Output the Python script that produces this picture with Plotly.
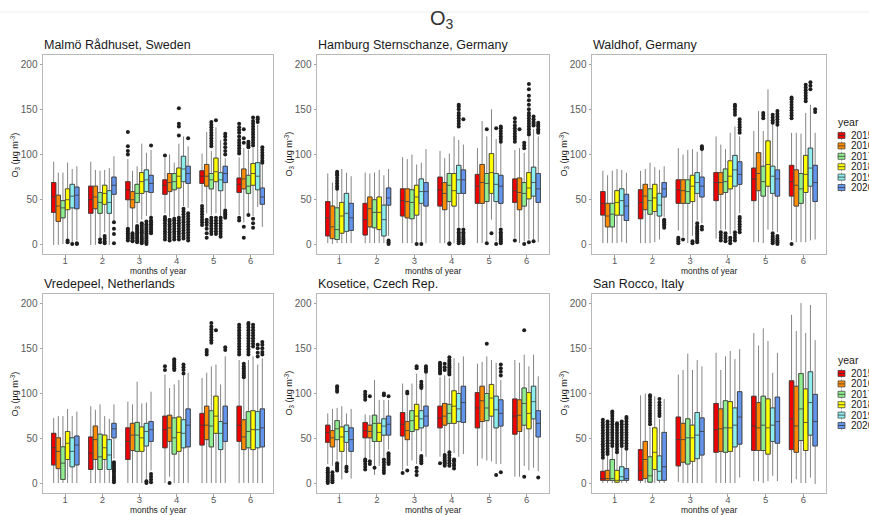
import plotly.graph_objects as go

W, H = 869, 515

YEARS = ["2015", "2016", "2017", "2018", "2019", "2020"]
MONTHS = [1, 2, 3, 4, 5, 6]
COLORS = ["#F20000", "#FF8C00", "#90EE90", "#FFFF00", "#8DEEEE", "#6495ED"]
TITLES = ["Malmö Rådhuset, Sweden", "Hamburg Sternschanze, Germany", "Waldhof, Germany",
          "Vredepeel, Netherlands", "Kosetice, Czech Rep.", "San Rocco, Italy"]
Y_TICKS = [0, 50, 100, 150, 200]

# rows = months 1..6, columns = years 2015..2020
MALMO_LO = [[0, 0, 1, 6, 2, 5], [0, 0, 4, 14, 0, 26], [20, 14, 24, 28, 32, 32],
            [35, 31, 31, 32, 43, 41], [46, 35, 33, 35, 31, 40], [33, 25, 35, 32, 42, 20]]
MALMO_Q1 = [[36, 26, 30, 39, 41, 40], [35, 40, 35, 45, 35, 56], [50, 41, 47, 57, 59, 58],
            [56, 59, 61, 63, 70, 68], [68, 65, 62, 70, 60, 69], [58, 62, 57, 66, 61, 45]]
MALMO_MED = [[53, 43, 41, 50, 54, 55], [50, 53, 47, 57, 47, 66], [61, 50, 57, 70, 72, 68],
             [66, 69, 70, 76, 84, 79], [76, 76, 72, 81, 72, 79], [67, 73, 65, 79, 76, 53]]
MALMO_Q3 = [[69, 55, 49, 62, 67, 64], [65, 65, 58, 66, 60, 75], [70, 59, 67, 80, 83, 77],
            [72, 79, 79, 85, 98, 87], [82, 89, 79, 96, 80, 87], [74, 84, 77, 90, 91, 63]]
MALMO_HI = [[92, 80, 80, 91, 84, 87], [92, 83, 82, 83, 85, 98], [95, 82, 87, 112, 102, 105],
            [96, 100, 91, 112, 120, 109], [101, 125, 104, 130, 116, 96], [97, 107, 105, 107, 133, 89]]
MALMO_OUT = {
    (1, 3): [3, 5], (1, 4): [1], (1, 5): [1, 2],
    (2, 2): [3, 6], (2, 3): [2, 4, 7, 10], (2, 5): [2, 12, 18, 25],
    (3, 0): [100, 104, 109, 125, 5, 7, 9, 11, 13, 15, 17, 18],
    (3, 1): [4, 5, 7, 8, 10, 11, 13],
    (3, 2): [3, 5, 7, 9, 11, 13, 15, 17, 19, 21],
    (3, 3): [2, 4, 6, 8, 10, 12, 14, 16, 18, 20, 22, 24],
    (3, 4): [1, 3, 5, 7, 9, 11, 13, 15, 17, 19, 21, 23, 26],
    (3, 5): [110, 13, 15, 17, 19, 21, 23, 25, 27, 30],
    (4, 0): [99, 6, 9, 12, 15, 18, 21, 24, 27, 29, 31],
    (4, 1): [5, 8, 11, 14, 17, 20, 23, 26, 28],
    (4, 2): [6, 9, 12, 15, 18, 21, 24, 27, 29],
    (4, 3): [121, 131, 134, 151, 6, 9, 12, 15, 18, 21, 24, 27, 30],
    (4, 4): [7, 10, 13, 16, 19, 22, 25, 28, 31, 34, 37, 40],
    (4, 5): [118, 5, 8, 11, 14, 17, 20, 23, 26, 29, 32, 35],
    (5, 0): [22, 25, 28, 31, 34, 37, 40, 43],
    (5, 1): [8, 13, 18, 22, 25, 28],
    (5, 2): [109, 112, 115, 118, 121, 124, 127, 130, 133, 136, 12, 15, 18, 21, 24, 27, 30],
    (5, 3): [138, 12, 15, 18, 21, 24, 27, 30],
    (5, 4): [9, 12, 15, 18, 21, 24, 27, 30],
    (5, 5): [100, 104, 108, 112, 116, 120, 123, 30, 32, 34, 36, 38],
    (6, 0): [101, 104, 107, 110, 113, 116, 120, 124, 127, 130, 134, 27, 30],
    (6, 1): [113, 118, 128, 8, 20],
    (6, 2): [108, 110, 112, 114, 33],
    (6, 3): [110, 113, 116, 119, 122, 125, 128, 131, 134, 137, 141, 19, 24, 29],
    (6, 4): [136, 139, 141],
    (6, 5): [91, 93, 96, 99, 102, 105, 108],
}

HAMBURG_LO = [[2, 1, 2, 2, 2, 2], [2, 2, 2, 2, 2, 10], [2, 2, 2, 3, 3, 2],
              [2, 2, 4, 2, 20, 20], [2, 2, 4, 28, 4, 20], [8, 2, 4, 6, 6, 3]]
HAMBURG_Q1 = [[10, 7, 6, 13, 15, 16], [11, 20, 19, 17, 10, 44], [32, 30, 29, 33, 46, 43],
              [43, 39, 48, 43, 57, 57], [46, 46, 48, 57, 48, 46], [47, 39, 43, 51, 54, 47]]
HAMBURG_MED = [[30, 20, 17, 32, 35, 30], [28, 40, 36, 36, 28, 52], [49, 48, 47, 53, 59, 59],
               [61, 57, 66, 60, 72, 72], [65, 69, 68, 80, 67, 65], [60, 58, 57, 63, 69, 62]]
HAMBURG_Q3 = [[48, 43, 41, 47, 57, 46], [46, 53, 50, 53, 44, 63], [62, 62, 61, 66, 73, 69],
              [75, 69, 79, 79, 88, 83], [78, 89, 79, 101, 79, 77], [73, 74, 69, 80, 86, 79]]
HAMBURG_HI = [[79, 69, 61, 84, 80, 76], [80, 79, 80, 83, 77, 84], [97, 95, 100, 89, 91, 106],
              [104, 96, 101, 120, 116, 111], [107, 137, 120, 150, 117, 113], [105, 107, 102, 120, 128, 120]]
HAMBURG_OUT = {
    (1, 2): [62, 65, 68, 71, 74, 77, 79, 81],
    (2, 5): [1, 3, 5],
    (3, 3): [1], (3, 4): [1],
    (4, 2): [1, 2],
    (4, 4): [131, 134, 137, 140, 143, 146, 150, 153, 155, 2, 4, 6, 8, 10, 12, 14, 17],
    (4, 5): [139, 2, 4, 6, 8, 10, 12, 14, 17],
    (5, 2): [128, 2], (5, 3): [13], (5, 4): [129, 1],
    (5, 5): [114, 117, 120, 123, 126, 129, 131, 2, 4, 6, 8, 10, 12, 14, 17],
    (6, 0): [114, 117, 120, 123, 126, 129, 132, 136, 140, 5], (6, 1): [128],
    (6, 2): [107, 110, 113, 1],
    (6, 3): [122, 125, 128, 131, 134, 137, 140, 143, 146, 150, 155, 160, 165, 172, 178, 3],
    (6, 4): [132, 134, 136, 139, 142, 4], (6, 5): [124, 126, 128, 131, 133, 135],
}

WALDHOF_LO = [[2, 2, 2, 2, 3, 2], [2, 2, 2, 3, 6, 31], [16, 9, 2, 10, 27, 24],
              [7, 17, 17, 12, 17, 35], [3, 3, 2, 17, 16, 14], [5, 3, 3, 3, 5, 6]]
WALDHOF_Q1 = [[33, 20, 20, 33, 33, 27], [29, 39, 34, 37, 32, 53], [46, 46, 46, 48, 57, 53],
              [49, 56, 58, 62, 65, 67], [49, 60, 54, 65, 57, 54], [54, 43, 46, 58, 65, 48]]
WALDHOF_MED = [[46, 32, 34, 47, 49, 43], [47, 54, 49, 52, 44, 62], [61, 60, 59, 65, 69, 65],
               [69, 69, 70, 76, 83, 78], [73, 79, 70, 89, 76, 73], [70, 66, 62, 78, 85, 69]]
WALDHOF_Q3 = [[59, 46, 46, 60, 62, 56], [61, 67, 62, 67, 57, 69], [72, 72, 72, 77, 80, 75],
              [80, 80, 84, 93, 99, 92], [85, 102, 87, 115, 87, 83], [88, 83, 79, 99, 107, 88]]
WALDHOF_HI = [[82, 77, 82, 84, 83, 80], [82, 84, 91, 86, 83, 87], [107, 100, 105, 106, 103, 105],
              [120, 111, 106, 124, 131, 120], [126, 148, 126, 172, 135, 135], [124, 124, 123, 146, 155, 124]]
WALDHOF_OUT = {
    (2, 5): [19, 21, 23, 25, 27, 28],
    (3, 0): [2, 4, 6, 8], (3, 1): [6], (3, 3): [2, 4],
    (3, 4): [3, 5, 7, 9, 11, 13, 15, 17, 19, 21, 24], (3, 5): [106, 107, 109, 17, 20],
    (4, 1): [5, 8, 11, 14], (4, 2): [4, 7, 10, 13], (4, 3): [2, 5, 8],
    (4, 4): [144, 147, 150, 153, 155, 5, 8, 11, 14],
    (4, 5): [124, 127, 130, 133, 136, 139, 14, 17, 20, 23, 26, 29, 31],
    (5, 2): [140, 143, 146], (5, 4): [135, 138, 141, 144, 2, 4, 6, 8, 10, 13],
    (5, 5): [133, 136, 139, 142, 145, 148, 1, 3, 5, 7, 10],
    (6, 0): [140, 143, 146, 149, 152, 155, 158, 161, 163, 1],
    (6, 3): [159, 162, 165, 168, 171, 174, 177],
    (6, 4): [172, 176, 180], (6, 5): [147, 150],
}

VREDEPEEL_LO = [[1, 1, 1, 1, 1, 1], [1, 1, 1, 1, 1, 28], [1, 1, 1, 1, 3, 15],
                [1, 8, 1, 1, 1, 1], [1, 1, 1, 1, 1, 1], [1, 1, 1, 1, 1, 1]]
VREDEPEEL_Q1 = [[21, 17, 5, 27, 19, 21], [16, 27, 16, 27, 16, 51], [27, 37, 36, 36, 42, 47],
                [40, 47, 33, 36, 40, 41], [43, 49, 41, 56, 38, 47], [47, 38, 40, 38, 40, 41]]
VREDEPEEL_MED = [[40, 36, 23, 45, 36, 43], [34, 49, 30, 40, 32, 61], [47, 54, 54, 51, 58, 60],
                 [60, 62, 51, 57, 56, 65], [65, 65, 64, 75, 56, 67], [65, 52, 58, 60, 60, 62]]
VREDEPEEL_Q3 = [[56, 51, 41, 58, 51, 53], [52, 64, 55, 54, 49, 67], [62, 67, 68, 63, 67, 69],
                [75, 76, 73, 74, 71, 83], [78, 86, 81, 97, 69, 86], [86, 71, 80, 81, 80, 83]]
VREDEPEEL_HI = [[73, 75, 75, 83, 75, 80], [86, 82, 88, 75, 72, 88], [91, 88, 113, 89, 90, 102],
                [121, 106, 110, 115, 120, 123], [117, 123, 130, 132, 110, 141], [137, 116, 137, 141, 132, 139]]
VREDEPEEL_OUT = {
    (2, 5): [2, 4, 6, 8, 10, 12, 14, 16, 18, 20, 22, 24],
    (3, 4): [1, 3], (3, 5): [2, 5, 8, 11],
    (4, 0): [126, 130], (4, 1): [1], (4, 2): [126, 128, 130, 132, 134, 136, 138],
    (4, 4): [122, 126, 129, 132],
    (5, 1): [143, 146, 148], (5, 2): [156, 159, 162, 165, 168, 171, 174, 178], (5, 3): [170],
    (5, 5): [148, 151],
    (6, 0): [143, 146, 149, 152, 155, 158, 161, 164, 167, 170, 173, 176],
    (6, 1): [118, 120, 122, 124, 126, 128, 130, 133],
    (6, 2): [143, 146, 149, 152, 155, 158, 161, 164, 167, 170, 173, 176, 178],
    (6, 3): [152, 155, 158, 161, 164, 167, 170, 173, 176],
    (6, 4): [141, 145, 150, 154], (6, 5): [143, 146, 150, 154, 157],
}

KOSETICE_LO = [[22, 20, 26, 5, 20, 6], [26, 28, 10, 20, 30, 38], [15, 20, 26, 22, 36, 30],
               [30, 34, 36, 34, 30, 33], [20, 28, 26, 25, 22, 22], [8, 8, 20, 15, 18, 14]]
KOSETICE_Q1 = [[46, 41, 49, 36, 46, 36], [51, 51, 47, 47, 54, 54], [53, 49, 58, 60, 62, 64],
               [62, 65, 67, 67, 69, 68], [62, 69, 70, 75, 62, 64], [55, 58, 65, 61, 72, 52]]
KOSETICE_MED = [[57, 51, 61, 52, 58, 49], [59, 58, 67, 57, 64, 66], [66, 59, 70, 75, 72, 75],
                [73, 75, 78, 86, 83, 90], [84, 92, 84, 95, 82, 78], [75, 76, 89, 78, 91, 67]]
KOSETICE_Q3 = [[65, 59, 70, 63, 65, 62], [68, 65, 76, 67, 72, 75], [79, 69, 81, 88, 81, 86],
               [86, 89, 88, 103, 100, 108], [101, 108, 100, 110, 97, 93], [94, 93, 106, 101, 108, 81]]
KOSETICE_HI = [[78, 83, 84, 86, 78, 83], [77, 76, 115, 93, 93, 93], [111, 97, 111, 122, 115, 122],
               [118, 120, 117, 139, 134, 141], [133, 135, 141, 137, 134, 115], [137, 134, 143, 130, 143, 119]]
KOSETICE_OUT = {
    (1, 0): [1, 3, 5, 7, 9, 11, 13, 15, 17], (1, 1): [2, 4, 6, 8, 10, 13],
    (1, 2): [102, 104, 106, 108, 15, 17, 19, 21, 23], (1, 4): [14, 17, 19],
    (2, 0): [93, 96, 99, 102, 16, 19, 22, 25, 27], (2, 1): [97, 22, 25], (2, 2): [18],
    (2, 4): [98, 100, 12, 15, 18, 21, 24, 27], (2, 5): [97, 22, 24, 26, 28, 30, 32, 34],
    (3, 0): [12], (3, 1): [100, 102, 15], (3, 3): [128, 130, 10, 14, 18],
    (3, 4): [106, 108, 110, 113, 23, 25, 27, 29, 31], (3, 5): [124, 126, 128, 130],
    (4, 0): [122, 124, 126, 128, 130, 132, 134, 23],
    (4, 1): [126, 129, 133, 20, 22, 24, 26, 28, 30, 32],
    (4, 2): [121, 123, 125, 127, 129, 131, 133, 135, 137, 140, 20, 23, 26, 29, 32, 35],
    (4, 3): [17, 20, 22, 25, 27],
    (5, 2): [155], (5, 4): [10], (5, 5): [120, 124, 128, 132, 13],
    (6, 2): [170, 8], (6, 5): [7],
}

SANROCCO_LO = [[1, 1, 1, 1, 1, 1], [1, 1, 1, 1, 1, 1], [2, 1, 1, 1, 1, 1],
               [1, 1, 1, 1, 1, 7], [3, 3, 1, 3, 9, 3], [1, 5, 1, 1, 7, 0]]
SANROCCO_Q1 = [[4, 4, 4, 2, 4, 4], [4, 6, 2, 16, 4, 4], [20, 24, 22, 25, 28, 32],
               [35, 36, 35, 36, 41, 44], [37, 37, 37, 33, 47, 45], [38, 35, 48, 37, 54, 42]]
SANROCCO_MED = [[6, 6, 6, 4, 8, 6], [15, 27, 9, 35, 14, 19], [49, 49, 51, 51, 54, 58],
                [60, 61, 62, 62, 65, 74], [64, 62, 65, 62, 65, 69], [72, 64, 83, 68, 90, 69]]
SANROCCO_Q3 = [[14, 15, 27, 15, 19, 17], [38, 47, 30, 62, 31, 57], [74, 67, 72, 65, 79, 73],
               [89, 83, 92, 91, 84, 102], [97, 90, 97, 94, 84, 96], [114, 108, 122, 105, 124, 99]]
SANROCCO_HI = [[27, 31, 40, 33, 40, 37], [98, 100, 63, 97, 72, 94], [121, 126, 144, 126, 137, 130],
               [145, 126, 141, 147, 138, 149], [167, 153, 172, 158, 123, 145], [187, 169, 200, 167, 198, 159]]
SANROCCO_OUT = {
    (1, 0): [29, 32, 35, 38, 41, 44, 47, 50, 53, 56, 59, 62, 65, 68, 71],
    (1, 1): [33, 36, 39, 42, 45, 48, 51, 54, 57, 60, 63, 66, 69],
    (1, 2): [42, 45, 48, 51, 54, 57, 60, 63, 66, 69, 72, 75, 78, 80],
    (1, 3): [35, 38, 41, 44, 47, 50, 53, 56, 59, 62, 65, 67],
    (1, 4): [42, 45, 48, 51, 54, 57, 60, 63, 66, 69],
    (1, 5): [39, 42, 45, 48, 51, 54, 57, 60, 63, 66, 69, 72, 74],
    (2, 2): [66, 69, 72, 75, 78, 81, 84, 87, 90, 93, 96, 98],
    (2, 4): [75, 78, 81, 84, 87, 90, 94],
}

PANELS = [
    (MALMO_LO, MALMO_Q1, MALMO_MED, MALMO_Q3, MALMO_HI, MALMO_OUT),
    (HAMBURG_LO, HAMBURG_Q1, HAMBURG_MED, HAMBURG_Q3, HAMBURG_HI, HAMBURG_OUT),
    (WALDHOF_LO, WALDHOF_Q1, WALDHOF_MED, WALDHOF_Q3, WALDHOF_HI, WALDHOF_OUT),
    (VREDEPEEL_LO, VREDEPEEL_Q1, VREDEPEEL_MED, VREDEPEEL_Q3, VREDEPEEL_HI, VREDEPEEL_OUT),
    (KOSETICE_LO, KOSETICE_Q1, KOSETICE_MED, KOSETICE_Q3, KOSETICE_HI, KOSETICE_OUT),
    (SANROCCO_LO, SANROCCO_Q1, SANROCCO_MED, SANROCCO_Q3, SANROCCO_HI, SANROCCO_OUT),
]

# ---- layout geometry (pixels) ----
COL_PX = [(43, 273), (317, 549), (592, 826)]
ROW_PX = [(55, 254), (294, 493)]
DODGE = 0.75 / len(YEARS)
BOX_W = DODGE * 0.94
FONT = "Liberation Sans, Arial, sans-serif"


def px(x):
    return x / W


def py(y):
    return 1 - y / H


fig = go.Figure()
layout = dict(
    width=W, height=H, margin=dict(l=0, r=0, t=0, b=0),
    paper_bgcolor="white", plot_bgcolor="white", showlegend=False,
    boxmode="overlay", font=dict(family=FONT),
)
annotations = []
shapes = []

for p, (LO, Q1, MED, Q3, HI, OUT) in enumerate(PANELS):
    r, c = divmod(p, 3)
    x0, x1 = COL_PX[c]
    y0, y1 = ROW_PX[r]
    sfx = "" if p == 0 else str(p + 1)
    xa, ya = "x" + sfx, "y" + sfx
    layout["xaxis" + sfx] = dict(
        domain=[px(x0), px(x1)], anchor=ya, range=[0.4, 6.6], tickvals=MONTHS,
        ticks="outside", ticklen=2.5, tickcolor="#a0a0a0", tickfont=dict(size=9.5, color="#5a5a5a"),
        ticklabelstandoff=-5,
        showline=True, mirror=True, linecolor="#b8b8b8", linewidth=1,
        showgrid=False, zeroline=False, fixedrange=True)
    layout["yaxis" + sfx] = dict(
        domain=[py(y1), py(y0)], anchor=xa, range=[-10, 210], tickvals=Y_TICKS,
        ticks="outside", ticklen=2.5, tickcolor="#a0a0a0", tickfont=dict(size=10, color="#5a5a5a"),
        showline=True, mirror=True, linecolor="#b8b8b8", linewidth=1,
        showgrid=False, zeroline=False, fixedrange=True)

    for yi, year in enumerate(YEARS):
        off = (yi - (len(YEARS) - 1) / 2) * DODGE
        xs = [m + off for m in MONTHS]
        q1 = [Q1[i][yi] for i in range(len(MONTHS))]
        med = [MED[i][yi] for i in range(len(MONTHS))]
        q3 = [Q3[i][yi] for i in range(len(MONTHS))]
        lo = [LO[i][yi] for i in range(len(MONTHS))]
        hi = [HI[i][yi] for i in range(len(MONTHS))]
        # whiskers (grey)
        fig.add_trace(go.Box(
            x=xs, q1=q1, median=med, q3=q3, lowerfence=lo, upperfence=hi,
            width=BOX_W, whiskerwidth=0, fillcolor=COLORS[yi], boxpoints=False,
            line=dict(color="#858585", width=1), xaxis=xa, yaxis=ya,
            name=year, showlegend=False, hoverinfo="skip"))
        # box body + median (dark outline)
        fig.add_trace(go.Box(
            x=xs, q1=q1, median=med, q3=q3, lowerfence=q1, upperfence=q3,
            width=BOX_W, whiskerwidth=0, fillcolor=COLORS[yi], boxpoints=False,
            line=dict(color="#3a3a3a", width=0.8), xaxis=xa, yaxis=ya,
            name=year, showlegend=False, hoverinfo="skip"))
        ox, oy = [], []
        for (m, yy), vals in OUT.items():
            if yy == yi:
                for v in vals:
                    ox.append(m + off)
                    oy.append(v)
        if ox:
            fig.add_trace(go.Scatter(
                x=ox, y=oy, mode="markers", xaxis=xa, yaxis=ya,
                marker=dict(size=4, color="#1e1e1e", line=dict(width=0)),
                showlegend=False, hoverinfo="skip"))

    # panel title
    annotations.append(dict(
        text=TITLES[p], x=px(x0 - 1), y=py(y0 - 10), xref="paper", yref="paper",
        xanchor="left", yanchor="middle", showarrow=False,
        font=dict(size=12.5, color="#1a1a1a")))
    # y title
    annotations.append(dict(
        text="O<sub>3</sub> (µg m<sup>-3</sup>)", x=px(x0 - 28), y=py((y0 + y1) / 2),
        xref="paper", yref="paper", xanchor="center", yanchor="middle",
        textangle=-90, showarrow=False, font=dict(size=9, color="#1a1a1a")))
    # x title
    annotations.append(dict(
        text="months of year", x=px((x0 + x1) / 2), y=py(y1 + 17),
        xref="paper", yref="paper", xanchor="center", yanchor="middle",
        showarrow=False, font=dict(size=8.5, color="#1a1a1a")))

# main title
annotations.append(dict(
    text="O<sub>3</sub>", x=px(442), y=py(20), xref="paper", yref="paper",
    xanchor="center", yanchor="middle", showarrow=False,
    font=dict(size=20, color="#333333")))
shapes.append(dict(type="line", xref="paper", yref="paper", x0=0, x1=1,
                   y0=py(12), y1=py(12), line=dict(color="#eeeeee", width=1)))

# legends (one per row, ggplot-style keys)
for top in (122, 360):
    annotations.append(dict(
        text="year", x=px(836), y=py(top), xref="paper", yref="paper",
        xanchor="left", yanchor="middle", showarrow=False,
        font=dict(size=10.5, color="#1a1a1a")))
    for yi, year in enumerate(YEARS):
        cy = top + 13.5 + 10.4 * yi
        shapes.append(dict(type="line", xref="paper", yref="paper",
                           x0=px(841.5), x1=px(841.5), y0=py(cy - 4.5), y1=py(cy + 4.5),
                           line=dict(color="#8a8a8a", width=0.8)))
        shapes.append(dict(type="rect", xref="paper", yref="paper",
                           x0=px(838), x1=px(845), y0=py(cy - 3), y1=py(cy + 3),
                           fillcolor=COLORS[yi], line=dict(color="#3a3a3a", width=0.7)))
        shapes.append(dict(type="line", xref="paper", yref="paper",
                           x0=px(838), x1=px(845), y0=py(cy), y1=py(cy),
                           line=dict(color="#3a3a3a", width=0.8)))
        annotations.append(dict(
            text=year, x=px(849), y=py(cy), xref="paper", yref="paper",
            xanchor="left", yanchor="middle", showarrow=False,
            font=dict(size=10, color="#1a1a1a")))

layout["annotations"] = annotations
layout["shapes"] = shapes
fig.update_layout(**layout)
fig.write_html("out.html")
